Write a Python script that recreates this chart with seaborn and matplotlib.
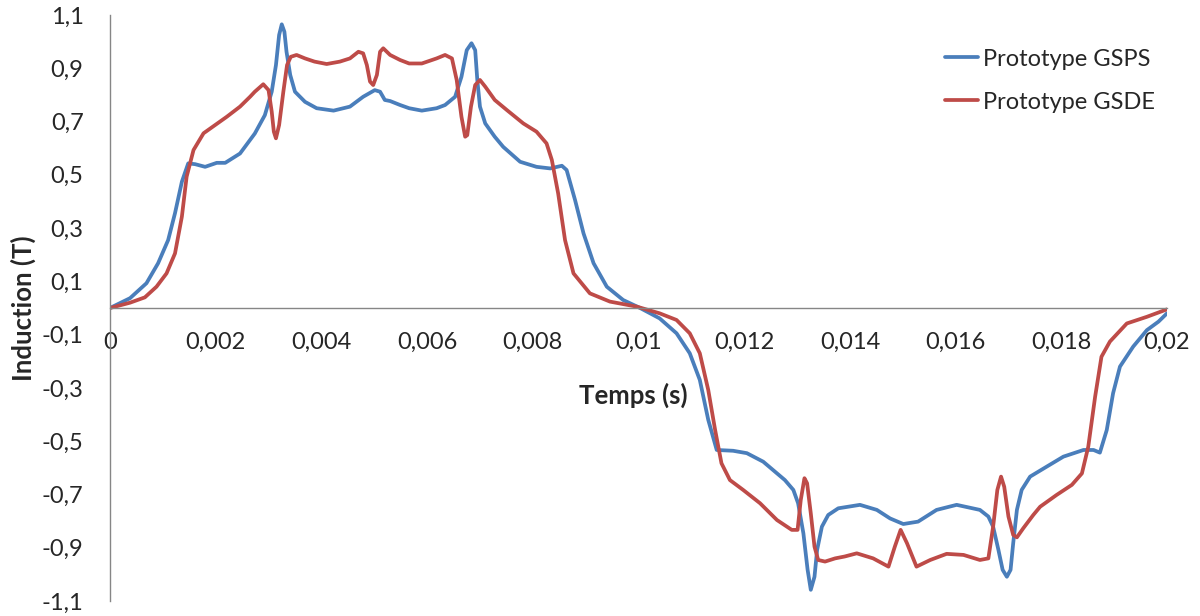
import matplotlib
matplotlib.use("Agg")
import matplotlib.pyplot as plt
import numpy as np
import pandas as pd
import seaborn as sns

# values (t in s, B in T)
t_gsps = [0, 0.00038, 0.00069, 0.00091, 0.0011, 0.00123, 0.00136, 0.00148, 0.00161, 0.0018,
          0.00202, 0.00218, 0.00246, 0.00274, 0.00293, 0.00306, 0.00314, 0.0032, 0.00325, 0.0033,
          0.00334, 0.00341, 0.0035, 0.00369, 0.00391, 0.00423, 0.00454, 0.00479, 0.00501, 0.00511,
          0.0052, 0.0053, 0.00549, 0.00566, 0.0059, 0.00618, 0.00634, 0.00653, 0.00665, 0.00675,
          0.00684, 0.00691, 0.00695, 0.007, 0.0071, 0.00728, 0.00744, 0.00776, 0.00807, 0.00833,
          0.00855, 0.00864, 0.0088, 0.00896, 0.00915, 0.0094, 0.00971, 0.01003, 0.0104, 0.01072,
          0.01097, 0.01116, 0.01132, 0.01148, 0.01179, 0.01205, 0.01236, 0.01277, 0.01293, 0.01302,
          0.01312, 0.0132, 0.01326, 0.01333, 0.01338, 0.01347, 0.01359, 0.01378, 0.01419, 0.01451,
          0.01476, 0.01501, 0.01529, 0.01564, 0.01602, 0.01646, 0.01662, 0.01671, 0.01681, 0.01689,
          0.01697, 0.01704, 0.01709, 0.01716, 0.01725, 0.01741, 0.01772, 0.01804, 0.01842, 0.01861,
          0.01873, 0.01886, 0.01898, 0.01911, 0.01936, 0.01962, 0.01984, 0.02]
b_gsps = [0, 0.037, 0.093, 0.168, 0.255, 0.356, 0.474, 0.543, 0.54, 0.53,
          0.545, 0.545, 0.58, 0.655, 0.724, 0.812, 0.912, 1.025, 1.065, 1.037,
          0.962, 0.875, 0.812, 0.774, 0.75, 0.741, 0.756, 0.793, 0.818, 0.812,
          0.781, 0.777, 0.762, 0.75, 0.741, 0.75, 0.762, 0.793, 0.868, 0.968,
          0.994, 0.968, 0.856, 0.756, 0.693, 0.643, 0.605, 0.549, 0.53, 0.524,
          0.534, 0.518, 0.405, 0.28, 0.168, 0.08, 0.03, 0, -0.039, -0.095,
          -0.17, -0.27, -0.42, -0.533, -0.536, -0.545, -0.577, -0.646, -0.683, -0.733,
          -0.846, -0.983, -1.058, -1.009, -0.908, -0.821, -0.777, -0.752, -0.739, -0.758,
          -0.79, -0.811, -0.802, -0.758, -0.739, -0.758, -0.783, -0.821, -0.908, -0.983,
          -1.009, -0.983, -0.883, -0.758, -0.683, -0.633, -0.596, -0.558, -0.533, -0.533,
          -0.543, -0.458, -0.32, -0.22, -0.145, -0.083, -0.051, -0.02]

t_gsde = [0, 0.00038, 0.00066, 0.00088, 0.00107, 0.00123, 0.00136, 0.00145, 0.00158, 0.00177,
          0.00199, 0.00221, 0.00246, 0.00265, 0.00274, 0.0029, 0.003, 0.00306, 0.0031, 0.00314,
          0.0032, 0.00328, 0.00335, 0.00342, 0.00353, 0.00369, 0.00387, 0.0041, 0.00435, 0.00454,
          0.0047, 0.00479, 0.00486, 0.00492, 0.00498, 0.00505, 0.00511, 0.00517, 0.0053, 0.00549,
          0.00566, 0.0059, 0.00618, 0.00634, 0.00647, 0.00656, 0.00665, 0.00672, 0.00676, 0.00683,
          0.00691, 0.007, 0.0071, 0.00728, 0.00751, 0.00782, 0.00807, 0.00826, 0.00836, 0.00848,
          0.00861, 0.00877, 0.00908, 0.00946, 0.00997, 0.0104, 0.01072, 0.01097, 0.01116, 0.01132,
          0.01145, 0.01157, 0.01173, 0.01198, 0.0123, 0.01262, 0.0129, 0.01301, 0.01307, 0.01314,
          0.01319, 0.01326, 0.01333, 0.0134, 0.01353, 0.01372, 0.0139, 0.01413, 0.01444, 0.01473,
          0.01485, 0.01496, 0.01508, 0.01526, 0.01552, 0.01583, 0.01615, 0.01646, 0.01662, 0.01671,
          0.01679, 0.01686, 0.01692, 0.017, 0.01709, 0.01716, 0.01728, 0.01747, 0.0176, 0.01791,
          0.0182, 0.01839, 0.01851, 0.01864, 0.01876, 0.01892, 0.01924, 0.01962, 0.02]
b_gsde = [0, 0.02, 0.04, 0.08, 0.13, 0.205, 0.343, 0.493, 0.593, 0.656,
          0.687, 0.718, 0.756, 0.793, 0.812, 0.84, 0.818, 0.737, 0.662, 0.637,
          0.687, 0.812, 0.912, 0.943, 0.95, 0.937, 0.925, 0.916, 0.925, 0.937,
          0.962, 0.956, 0.912, 0.85, 0.837, 0.875, 0.962, 0.975, 0.95, 0.931,
          0.918, 0.918, 0.937, 0.95, 0.937, 0.856, 0.718, 0.643, 0.649, 0.756,
          0.837, 0.856, 0.831, 0.781, 0.743, 0.693, 0.662, 0.618, 0.556, 0.43,
          0.255, 0.13, 0.055, 0.024, 0.005, -0.02, -0.045, -0.095, -0.17, -0.308,
          -0.458, -0.583, -0.646, -0.683, -0.733, -0.796, -0.833, -0.833, -0.721, -0.639,
          -0.658, -0.771, -0.896, -0.946, -0.952, -0.94, -0.933, -0.921, -0.94, -0.971,
          -0.896, -0.833, -0.883, -0.971, -0.946, -0.923, -0.927, -0.946, -0.94, -0.821,
          -0.683, -0.633, -0.671, -0.783, -0.852, -0.861, -0.827, -0.777, -0.746, -0.702,
          -0.664, -0.621, -0.521, -0.333, -0.183, -0.126, -0.058, -0.033, -0.005]

series = ["Prototype GSPS", "Prototype GSDE"]
colors = ["#4a7ebb", "#be4b48"]

x_ticks = [0, 0.002, 0.004, 0.006, 0.008, 0.01, 0.012, 0.014, 0.016, 0.018, 0.02]
x_labels = ["0", "0,002", "0,004", "0,006", "0,008", "0,01", "0,012", "0,014", "0,016", "0,018", "0,02"]
y_ticks = [-1.1, -0.9, -0.7, -0.5, -0.3, -0.1, 0.1, 0.3, 0.5, 0.7, 0.9, 1.1]
y_labels = ["-1,1", "-0,9", "-0,7", "-0,5", "-0,3", "-0,1", "0,1", "0,3", "0,5", "0,7", "0,9", "1,1"]

df = pd.concat([
    pd.DataFrame({"t": t_gsps, "B": b_gsps, "serie": series[0]}),
    pd.DataFrame({"t": t_gsde, "B": b_gsde, "serie": series[1]}),
])

sns.set_style("white")
plt.rcParams["font.family"] = ["Lato", "DejaVu Sans"]
plt.rcParams["font.size"] = 17

fig = plt.figure(figsize=(12, 6.16), dpi=100)
ax = fig.add_axes([110 / 1200, 15 / 616, 1057 / 1200, 586 / 616])

sns.lineplot(data=df, x="t", y="B", hue="serie", palette=colors, estimator=None,
             sort=False, linewidth=2.7, ax=ax)
for ln in ax.lines:
    ln.set_solid_joinstyle("round")
    ln.set_solid_capstyle("round")

ax.set_xlim(0, 0.02)
ax.set_ylim(-1.1, 1.1)
ax.set_xticks(x_ticks)
ax.set_xticklabels(x_labels)
ax.set_yticks(y_ticks)
ax.set_yticklabels(y_labels)

for s in ["top", "right"]:
    ax.spines[s].set_visible(False)
ax.spines["bottom"].set_position(("data", 0))
for s in ["bottom", "left"]:
    ax.spines[s].set_color("#868686")
    ax.spines[s].set_linewidth(1)
ax.tick_params(axis="x", direction="out", length=7, width=1, color="#868686", pad=10, labelsize=17)
ax.tick_params(axis="y", direction="out", length=6, width=1, color="#868686", pad=13, labelsize=17)
ax.grid(False)

ax.set_xlabel("Temps (s)", fontweight="bold", fontsize=18.5)
ax.xaxis.set_label_coords(0.495, 0.372)
ax.set_ylabel("Induction (T)", fontweight="bold", fontsize=18.5)
ax.yaxis.set_label_coords(-0.07, 0.5)

leg = ax.legend(frameon=False, loc="upper left", bbox_to_anchor=(0.770, 0.979), fontsize=17,
                handlelength=1.4, handletextpad=0.2, labelspacing=0.93)
for h in leg.get_lines():
    h.set_linewidth(2.7)

fig.savefig("out.png", dpi=100)
